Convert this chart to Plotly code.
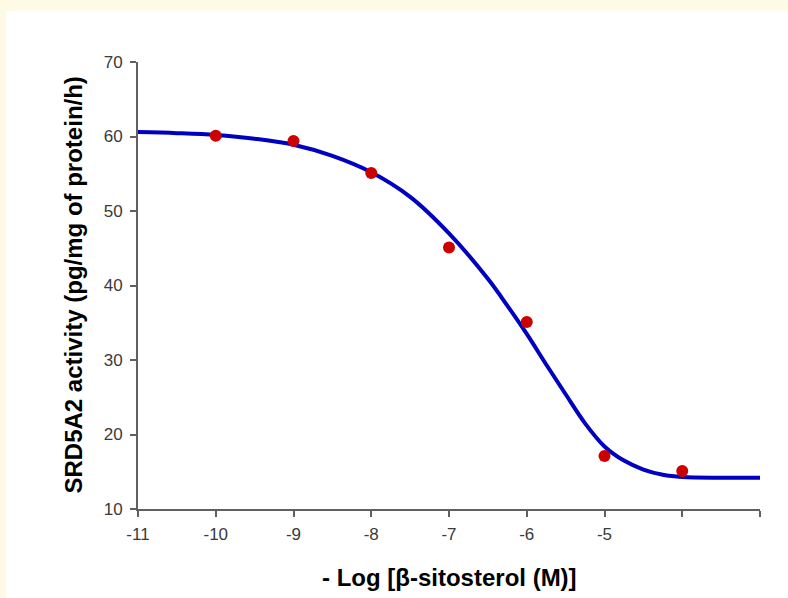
import plotly.graph_objects as go

# Measured data points
log_conc = [-10, -9, -8, -7, -6, -5, -4]
activity = [60.1, 59.4, 55.1, 45.1, 35.1, 17.1, 15.1]

# Fitted curve
curve_x = [-11, -10.5, -10, -9.5, -9, -8.5, -8, -7.5, -7, -6.5, -6.25, -6, -5.75,
           -5.5, -5.25, -5, -4.75, -4.5, -4.25, -4, -3.5, -3]
curve_y = [60.6, 60.45, 60.2, 59.7, 58.9, 57.4, 55.2, 51.9, 47.0, 40.9, 37.3, 33.5, 29.4,
           25.4, 21.5, 18.4, 16.5, 15.3, 14.6, 14.3, 14.2, 14.2]

x_tickvals = [-11, -10, -9, -8, -7, -6, -5, -4, -3]
x_ticktext = ["-11", "-10", "-9", "-8", "-7", "-6", "-5", "", ""]
y_tickvals = [10, 20, 30, 40, 50, 60, 70]

x_title = "<b>- Log [β-sitosterol (M)]</b>"
y_title = "<b>SRD5A2 activity (pg/mg of protein/h)</b>"

FONT = "Liberation Sans, Arial, sans-serif"
PLOT_W, PLOT_H = 622, 447

fig = go.Figure()
fig.add_trace(go.Scatter(
    x=curve_x, y=curve_y, mode="lines",
    line=dict(color="#0000C0", width=4, shape="spline", smoothing=1.0),
    hoverinfo="skip", showlegend=False))
fig.add_trace(go.Scatter(
    x=log_conc, y=activity, mode="markers",
    marker=dict(color="#CC0000", size=12, line=dict(width=0)),
    showlegend=False))

axis_font = dict(family=FONT, size=17, color="#3a3a3a")
title_font = dict(family=FONT, size=24, color="#000000")

fig.update_layout(
    width=788, height=598,
    margin=dict(l=138, r=28, t=62, b=89),
    paper_bgcolor="#FFFAE6",
    plot_bgcolor="white",
    font=dict(family=FONT),
    shapes=[dict(type="rect", xref="paper", yref="paper",
                 x0=-132/PLOT_W, x1=1 + 28/PLOT_W, y0=-89/PLOT_H, y1=1 + 51/PLOT_H,
                 fillcolor="white", line=dict(width=0), layer="below")],
    annotations=[
        dict(text=x_title, xref="paper", yref="paper", x=0.5, y=-68/PLOT_H,
             xanchor="center", yanchor="middle", showarrow=False, font=title_font),
        dict(text=y_title, xref="paper", yref="paper", x=-65/PLOT_W, y=0.5,
             xanchor="center", yanchor="middle", textangle=-90, showarrow=False,
             font=title_font),
    ],
    xaxis=dict(range=[-11, -3], tickvals=x_tickvals, ticktext=x_ticktext,
               showgrid=False, zeroline=False, showline=True,
               linecolor="#606060", linewidth=2, ticks="outside",
               ticklen=6, tickwidth=1.5, tickcolor="#606060",
               ticklabelstandoff=3, tickfont=axis_font),
    yaxis=dict(range=[10, 70], tickvals=y_tickvals,
               showgrid=False, zeroline=False, showline=True,
               linecolor="#606060", linewidth=2, ticks="outside",
               ticklen=6, tickwidth=1.5, tickcolor="#606060",
               ticklabelstandoff=4, tickfont=axis_font),
)

fig.write_html(
    "out.html",
    config={"displayModeBar": False},
    post_script="document.body.style.margin='0px';"
                "document.body.style.backgroundColor='#FFFAE6';")
